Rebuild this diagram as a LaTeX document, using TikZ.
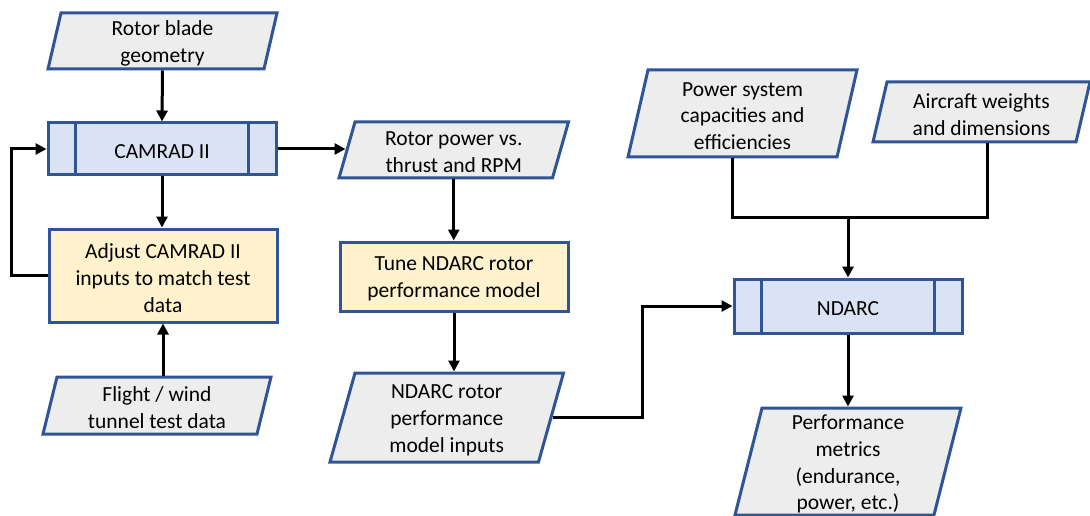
\documentclass[tikz,border=0pt]{standalone}
\usepackage{fontspec}
\setmainfont{Carlito}
\usetikzlibrary{arrows.meta,calc}
\definecolor{bord}{RGB}{47,85,151}
\definecolor{gfill}{RGB}{237,237,237}
\definecolor{bfill}{RGB}{218,227,243}
\definecolor{yfill}{RGB}{255,242,204}
\tikzset{
  txt/.style={font=\fontsize{21.5}{26.8}\selectfont, align=center, text=black, inner sep=0pt},
  parabox/.style={draw=bord, fill=gfill, line width=3pt, line join=miter},
  paratext/.style={inner sep=0pt, outer sep=1.5pt, shape=rectangle},
  procbox/.style={draw=bord, fill=bfill, line width=3pt, inner sep=0pt},
  taskbox/.style={draw=bord, fill=yfill, line width=3pt, inner sep=0pt},
  inlabel/.style={label={[txt, yshift=-2.5pt]center:{#1}}},
  conn/.style={line width=3pt, black},
  arr/.style={conn, -{Triangle[length=11pt,width=11pt]}},
}
\newcommand{\paranode}[7]{%
  \draw[parabox] (#2-#4+#6,#3-#5) -- (#2+#4+#6,#3-#5) -- (#2+#4-#6,#3+#5) -- (#2-#4-#6,#3+#5) -- cycle;
  \node[paratext, minimum width=2*#4 pt, minimum height=2*#5 pt, inlabel={#7}] (#1) at (#2,#3) {};}
\newcommand{\sidebars}[1]{%
  \draw[draw=bord, line width=3pt] ([xshift=29pt]#1.north west) -- ([xshift=29pt]#1.south west);
  \draw[draw=bord, line width=3pt] ([xshift=-29pt]#1.north east) -- ([xshift=-29pt]#1.south east);}
\begin{document}
\begin{tikzpicture}[x=1pt, y=-1pt]
\useasboundingbox (0,0) rectangle (1090,516);

% inputs / outputs
\paranode{rbg}{162.5}{41}{108}{28}{6.5}{Rotor blade\\geometry}
\paranode{flt}{157}{405.5}{107}{28.5}{7}{Flight / wind\\tunnel test data}
\paranode{rpw}{453.75}{150}{106.75}{28}{8}{Rotor power vs.\\thrust and RPM}
\paranode{inp}{446.75}{417.5}{104.25}{44.5}{12.5}{NDARC rotor\\performance\\model inputs}
\paranode{psys}{742.5}{113.5}{104.5}{43.5}{10}{Power system\\capacities and\\efficiencies}
\paranode{acw}{981.5}{112}{101.5}{30}{7}{Aircraft weights\\and dimensions}
\paranode{perf}{848}{461.5}{99.5}{53.5}{13.5}{Performance\\metrics\\(endurance,\\power, etc.)}

% processes
\node[procbox, minimum width=228pt, minimum height=52pt, inlabel={CAMRAD II}] (cam) at (162,149) {};
\sidebars{cam}
\node[procbox, minimum width=228pt, minimum height=54pt, inlabel={NDARC}] (nd) at (848,306) {};
\sidebars{nd}
\node[taskbox, minimum width=228pt, minimum height=93pt, inlabel={Adjust CAMRAD II\\inputs to match test\\data}] (adj) at (163,275.5) {};
\node[taskbox, minimum width=228pt, minimum height=69pt, inlabel={Tune NDARC rotor\\performance model}] (tune) at (454,276.5) {};

% connectors
\coordinate (j) at (848,217);
\draw[arr] (rbg.south) -- (cam.north);
\draw[arr] (cam.south) -- (cam.south |- adj.north);
\draw[arr] (adj.south |- flt.north) -- (adj.south);
\draw[arr] (adj.west) -- ++(-36,0) |- (cam.west);
\draw[arr] (cam.east) -- (cam.east -| rpw.west);
\draw[arr] (rpw.south) -- (rpw.south |- tune.north);
\draw[arr] (tune.south) -- (tune.south |- inp.north);
\draw[arr] (inp.east) -- ++(90,0) |- (nd.west);
\draw[conn] ([xshift=-10pt]psys.south) |- (j) -| ([xshift=5.5pt]acw.south);
\draw[arr] (j) -- (nd.north);
\draw[arr] (nd.south) -- (perf.north);
\end{tikzpicture}
\end{document}
